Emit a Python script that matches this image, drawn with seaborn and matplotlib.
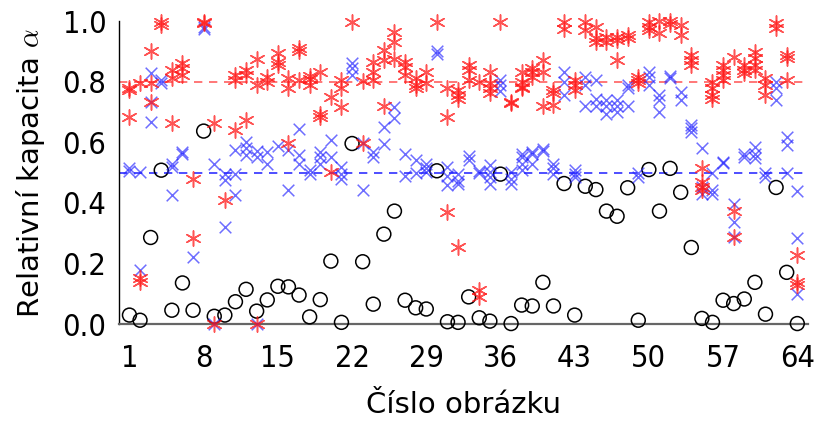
import numpy as np
import pandas as pd
import matplotlib
matplotlib.use("Agg")
import matplotlib.pyplot as plt
import seaborn as sns

images = list(range(1, 65))

circle_vals = [0.03, 0.013, 0.286, 0.508, 0.046, 0.136, 0.046, 0.637, 0.026, 0.03,
               0.074, 0.115, 0.043, 0.08, 0.125, 0.123, 0.096, 0.024, 0.081, 0.208,
               0.006, 0.596, 0.206, 0.066, 0.297, 0.373, 0.079, 0.054, 0.05, 0.506,
               0.008, 0.006, 0.09, 0.021, 0.01, 0.495, 0.002, 0.063, 0.06, 0.138,
               0.06, 0.464, 0.03, 0.455, 0.444, 0.373, 0.356, 0.45, 0.013, 0.51,
               0.373, 0.514, 0.435, 0.253, 0.019, 0.006, 0.079, 0.068, 0.083, 0.138,
               0.033, 0.451, 0.171, 0.002]

blue_vals = [
    [0.514, 0.505], [0.503, 0.178], [0.829, 0.734, 0.668], [0.805, 0.795],
    [0.53, 0.52, 0.426], [0.569, 0.561], [0.222], [0.98, 0.975],
    [0.53, 0.0], [0.495, 0.475, 0.321], [0.574, 0.495, 0.426], [0.60, 0.58, 0.558],
    [0.57, 0.55, 0.0], [0.569, 0.53], [0.587], [0.574, 0.442],
    [0.643, 0.558, 0.53], [0.508, 0.497], [0.569, 0.552, 0.53], [0.607, 0.552],
    [0.52, 0.497, 0.48], [0.86, 0.844, 0.822], [0.598, 0.442], [0.569, 0.552],
    [0.651, 0.594], [0.715, 0.679], [0.561, 0.488], [0.541, 0.5],
    [0.53, 0.514, 0.503], [0.9, 0.89], [0.519, 0.49, 0.459], [0.497, 0.473, 0.462],
    [0.554, 0.543], [0.506, 0.5], [0.525, 0.503, 0.486, 0.462], [0.805, 0.789, 0.77],
    [0.503, 0.48, 0.462], [0.563, 0.552, 0.53, 0.508], [0.569, 0.56, 0.53], [0.577, 0.572],
    [0.53, 0.514, 0.497], [0.833, 0.8, 0.756], [0.508, 0.497, 0.486], [0.816, 0.789, 0.72],
    [0.805, 0.742, 0.72], [0.739, 0.72, 0.695], [0.739, 0.72, 0.7], [0.789, 0.778, 0.72],
    [0.5, 0.486], [0.833, 0.816, 0.789], [0.756, 0.739, 0.70], [0.818, 0.811],
    [0.767, 0.739], [0.657, 0.646, 0.635], [0.58, 0.453, 0.431], [0.5, 0.442, 0.431],
    [0.536, 0.533], [0.398, 0.338, 0.286], [0.563, 0.552], [0.585, 0.563, 0.547],
    [0.5, 0.486], [0.8, 0.778, 0.739], [0.618, 0.59, 0.5], [0.439, 0.285, 0.101],
]

red_vals = [
    [0.778, 0.772, 0.682], [0.794, 0.151, 0.14], [0.902, 0.794, 0.734], [0.998, 0.987],
    [0.838, 0.811, 0.664], [0.86, 0.844, 0.822], [0.478, 0.283], [0.998, 0.995],
    [0.664, 0.0], [0.41], [0.822, 0.805, 0.64], [0.838, 0.822, 0.673],
    [0.874, 0.789, 0.0], [0.816, 0.8], [0.893, 0.866, 0.855], [0.811, 0.778, 0.598],
    [0.91, 0.9, 0.805], [0.82, 0.81, 0.79], [0.833, 0.695, 0.684], [0.75, 0.503],
    [0.805, 0.778, 0.717], [0.998], [0.803, 0.598], [0.866, 0.833, 0.805],
    [0.904, 0.871, 0.72], [0.965, 0.932, 0.874], [0.866, 0.849, 0.822], [0.811, 0.789, 0.778],
    [0.833, 0.794], [0.998], [0.778, 0.682, 0.37], [0.772, 0.756, 0.742, 0.253],
    [0.855, 0.838, 0.805], [0.8, 0.112, 0.09], [0.833, 0.794, 0.778, 0.763], [0.998],
    [0.734, 0.73], [0.833, 0.8, 0.784, 0.778], [0.844, 0.833, 0.816], [0.871, 0.833, 0.72],
    [0.772, 0.763, 0.722], [0.998, 0.973], [0.805, 0.789, 0.774], [0.998, 0.97],
    [0.981, 0.943, 0.932], [0.948, 0.932], [0.948, 0.938, 0.871], [0.954, 0.943],
    [0.814, 0.805, 0.796], [0.998, 0.981, 0.97], [1.0, 0.96], [1.0, 0.99],
    [0.987, 0.954], [0.888, 0.871, 0.855], [0.514, 0.47, 0.453, 0.442], [0.8, 0.778, 0.756, 0.742],
    [0.855, 0.838, 0.822, 0.805], [0.882, 0.374, 0.286], [0.855, 0.838, 0.827], [0.899, 0.877, 0.855, 0.838],
    [0.811, 0.789, 0.756], [0.992, 0.976], [0.888, 0.877, 0.805], [0.228, 0.14, 0.129],
]

x_ticks = [1, 8, 15, 22, 29, 36, 43, 50, 57, 64]
y_ticks = [0.0, 0.2, 0.4, 0.6, 0.8, 1.0]
red_ref = 0.8
blue_ref = 0.5

df_c = pd.DataFrame({"img": images, "val": circle_vals})
df_b = pd.DataFrame([(i, v) for i, vs in zip(images, blue_vals) for v in vs], columns=["img", "val"])
df_r = pd.DataFrame([(i, v) for i, vs in zip(images, red_vals) for v in vs], columns=["img", "val"])

sns.set_theme(style="white")
plt.rcParams["font.family"] = ["DejaVu Sans"]
plt.rcParams["mathtext.fontset"] = "cm"
plt.rcParams["text.color"] = "black"
plt.rcParams["axes.labelcolor"] = "black"
plt.rcParams["xtick.color"] = "black"
plt.rcParams["ytick.color"] = "black"

fig = plt.figure(figsize=(8.14, 4.21), dpi=100)
ax = fig.add_axes([0.146, 0.23, 0.8465, 0.72])

ax.axhline(red_ref, color="#ff6060", ls=(0, (5, 4)), lw=1.2, zorder=1)
ax.axhline(blue_ref, color="#3030ff", ls=(0, (5, 4)), lw=1.2, zorder=1)

sns.scatterplot(data=df_c, x="img", y="val", ax=ax, marker="o", s=100,
                facecolor="none", edgecolor="black", linewidth=1.1, clip_on=False, zorder=3)
sns.scatterplot(data=df_b, x="img", y="val", ax=ax, marker="x", s=70,
                color="#2020ff", alpha=0.65, linewidth=1.1, clip_on=False, zorder=4)
sns.scatterplot(data=df_r, x="img", y="val", ax=ax, marker=(6, 2, 0), s=120,
                color="#ff1a1a", alpha=0.75, linewidth=1.1, clip_on=False, zorder=5)

ax.set_xlim(0, 65)
ax.set_ylim(0, 1.0)
ax.set_xticks(x_ticks)
ax.set_xticklabels([str(t) for t in x_ticks])
ax.set_yticks(y_ticks)
ax.set_yticklabels([f"{t:.1f}" for t in y_ticks])
ax.tick_params(axis="x", direction="out", length=9, width=1, colors="black",
               labelsize=22, pad=5)
ax.tick_params(axis="y", direction="in", length=5, width=1, colors="black",
               labelsize=22, pad=9)
for lab in ax.get_xticklabels() + ax.get_yticklabels():
    lab.set_fontstretch("condensed")

for s in ["top", "right"]:
    ax.spines[s].set_visible(False)
ax.spines["left"].set_color("black")
ax.spines["left"].set_linewidth(1.0)
ax.spines["bottom"].set_color("#666666")
ax.spines["bottom"].set_linewidth(1.6)

ax.set_xlabel("Číslo obrázku", fontsize=21, labelpad=13, color="black")
ax.set_ylabel(r"Relativní kapacita $\alpha$", fontsize=21, labelpad=11, color="black")

fig.savefig("out.png", dpi=100)
